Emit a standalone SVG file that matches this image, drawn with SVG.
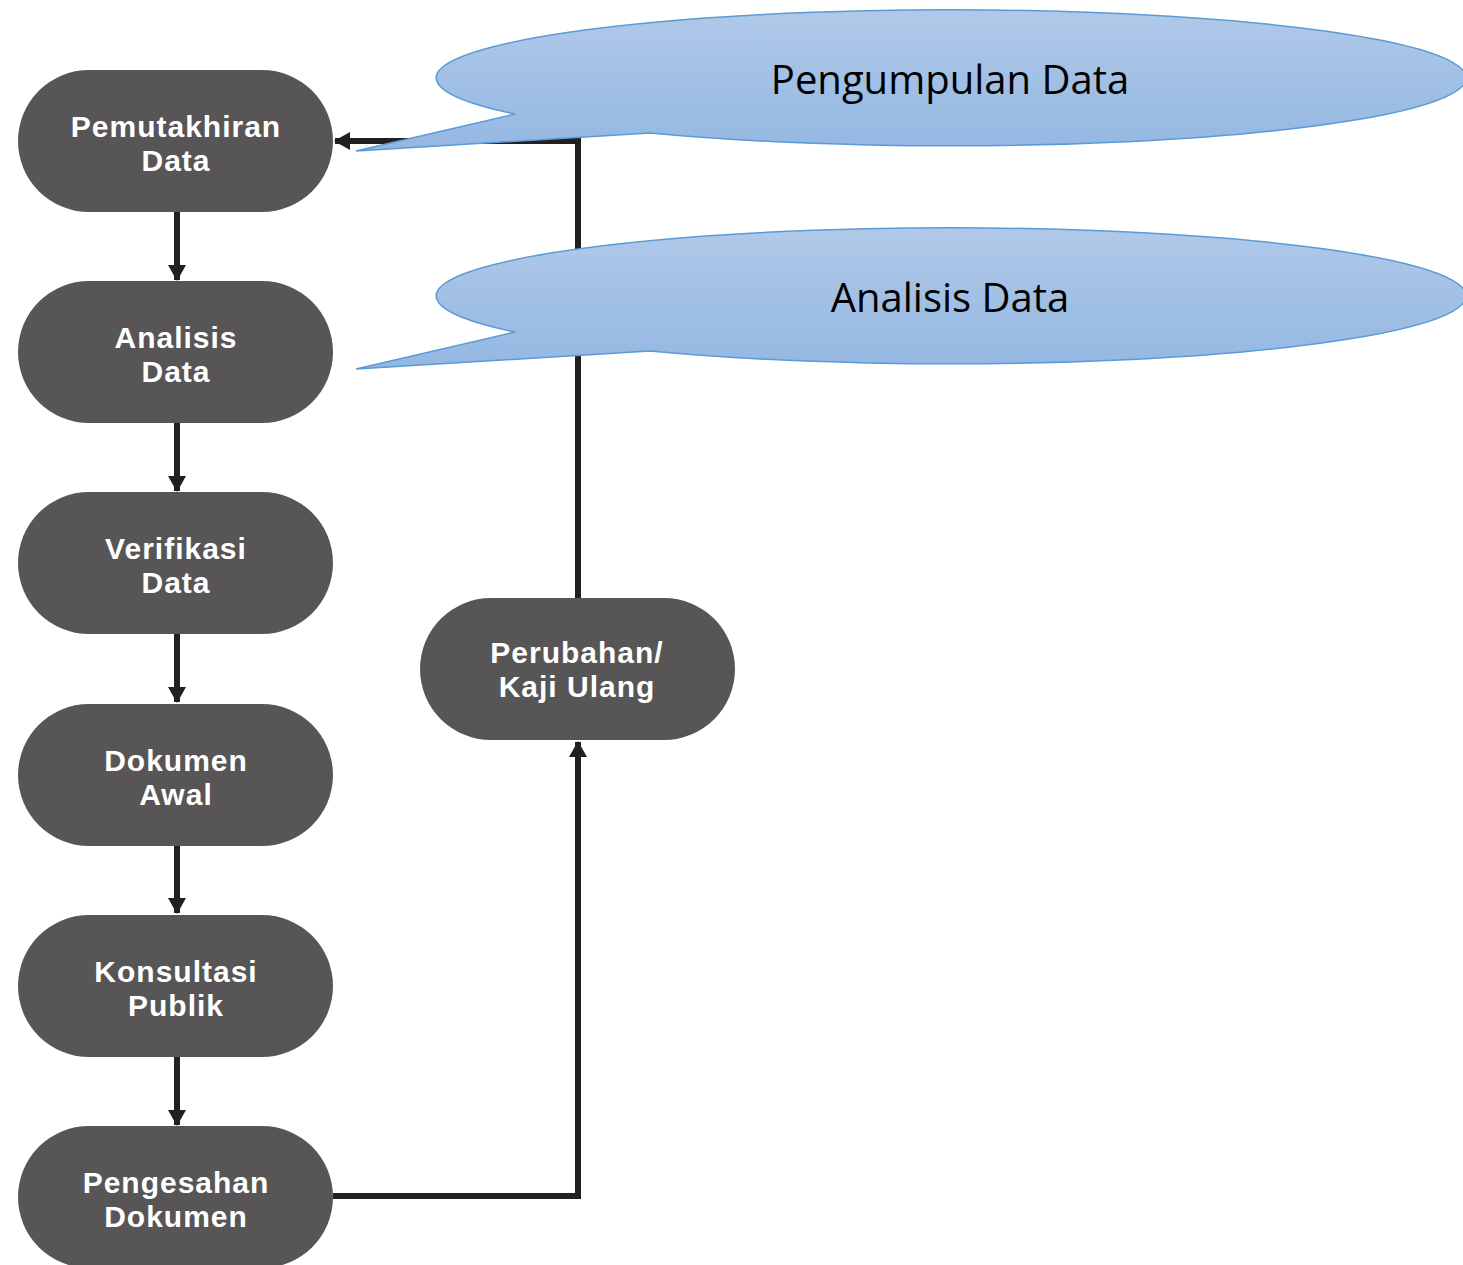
<svg xmlns="http://www.w3.org/2000/svg" width="1463" height="1265" viewBox="0 0 1463 1265">
<style>
.node{fill:#575556;}
.nt{font-family:"Liberation Sans",Arial,sans-serif;font-weight:700;font-size:30px;letter-spacing:1px;fill:#ffffff;text-anchor:middle;}
.conn{fill:none;stroke:#231f20;stroke-width:6;}
.bub{fill:url(#bg);stroke:#5b9bd5;stroke-width:1.5;}
.bt{font-family:"Open Sans","Liberation Sans",sans-serif;font-size:40px;fill:#000000;text-anchor:middle;}
</style>
<defs>
<marker id="ah" viewBox="0 0 16 18" refX="15" refY="9" markerWidth="16" markerHeight="18" orient="auto" markerUnits="userSpaceOnUse">
<path d="M0,0 L16,9 L0,18 Z" fill="#231f20"/>
</marker>
<linearGradient id="bg" x1="0" y1="0" x2="0" y2="1">
<stop offset="0" stop-color="#b0c9e8"/>
<stop offset="1" stop-color="#94b7e2"/>
</linearGradient>
</defs>
<rect width="1463" height="1265" fill="#ffffff"/>
<g id="connectors">
<line class="conn" x1="177" y1="212" x2="177" y2="280" marker-end="url(#ah)"/>
<line class="conn" x1="177" y1="423" x2="177" y2="491" marker-end="url(#ah)"/>
<line class="conn" x1="177" y1="634" x2="177" y2="702" marker-end="url(#ah)"/>
<line class="conn" x1="177" y1="846" x2="177" y2="913" marker-end="url(#ah)"/>
<line class="conn" x1="177" y1="1057" x2="177" y2="1125" marker-end="url(#ah)"/>
<polyline class="conn" points="333,1196 578,1196 578,742" marker-end="url(#ah)"/>
<polyline class="conn" points="578,598 578,141 335,141" marker-end="url(#ah)"/>
</g>
<g id="n1"><rect class="node" x="18" y="70" width="315" height="142" rx="71" ry="71"/>
<text class="nt" x="176" y="137">Pemutakhiran<tspan x="176" dy="34">Data</tspan></text></g>
<g id="n2"><rect class="node" x="18" y="281" width="315" height="142" rx="71" ry="71"/>
<text class="nt" x="176" y="348">Analisis<tspan x="176" dy="34">Data</tspan></text></g>
<g id="n3"><rect class="node" x="18" y="492" width="315" height="142" rx="71" ry="71"/>
<text class="nt" x="176" y="559">Verifikasi<tspan x="176" dy="34">Data</tspan></text></g>
<g id="n4"><rect class="node" x="18" y="704" width="315" height="142" rx="71" ry="71"/>
<text class="nt" x="176" y="771">Dokumen<tspan x="176" dy="34">Awal</tspan></text></g>
<g id="n5"><rect class="node" x="18" y="915" width="315" height="142" rx="71" ry="71"/>
<text class="nt" x="176" y="982">Konsultasi<tspan x="176" dy="34">Publik</tspan></text></g>
<g id="n6"><rect class="node" x="18" y="1126" width="315" height="142" rx="71" ry="71"/>
<text class="nt" x="176" y="1193">Pengesahan<tspan x="176" dy="34">Dokumen</tspan></text></g>
<g id="n7"><rect class="node" x="420" y="598" width="315" height="142" rx="71" ry="71"/>
<text class="nt" x="577" y="663">Perubahan/<tspan x="577" dy="34">Kaji Ulang</tspan></text></g>
<g id="callout1">
<path class="bub" d="M515,114 A515,68 0 1 1 650,133 L356,151 Z"/>
<text class="bt" x="950" y="94">Pengumpulan Data</text>
</g>
<g id="callout2">
<path class="bub" d="M515,332 A515,68 0 1 1 650,351 L356,369 Z"/>
<text class="bt" x="950" y="312">Analisis Data</text>
</g>
</svg>
